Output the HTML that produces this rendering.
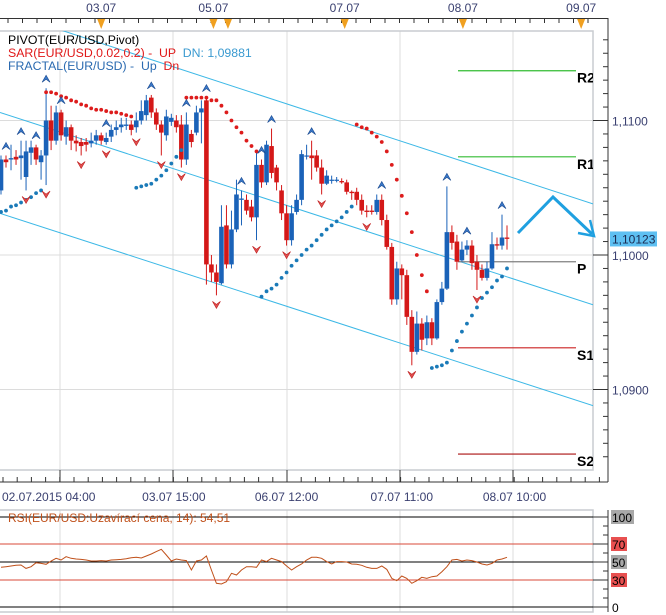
<!DOCTYPE html>
<html><head><meta charset="utf-8"><style>
html,body{margin:0;padding:0;background:#fff;}
svg{display:block;font-family:"Liberation Sans",sans-serif;}
text{white-space:pre;}
</style></head><body>
<svg id="c" width="666" height="615" viewBox="0 0 666 615">
<defs>
<clipPath id="pc"><rect x="0" y="31" width="593" height="439"/></clipPath>
<clipPath id="rc"><rect x="0" y="510" width="593" height="102"/></clipPath>
</defs>
</svg>
<script>
const opens=[1.1048,1.1071,1.1071,1.1073,1.1072,1.1058,1.1076,1.1080,1.1069,1.1074,
1.1100,1.1085,1.1106,1.1088,1.1095,1.1085,1.1084,1.1084,1.1083,1.1085,
1.1089,1.1084,1.1088,1.1093,1.1095,1.1096,1.1097,1.1095,1.1100,1.1104,
1.1117,1.1106,1.1097,1.1089,1.1099,1.1100,1.1097,1.1071,1.1090,1.1091,
1.1106,1.1115,1.0993,1.0987,1.0979,1.1022,1.0993,1.1019,1.1041,1.1041,
1.1036,1.1028,1.1067,1.1054,1.1081,1.1065,1.1048,1.1031,1.1011,1.1032,
1.1041,1.1074,1.1074,1.1074,1.1065,1.1053,1.1056,1.1056,1.1055,1.1054,
1.1047,1.1047,1.1041,1.1033,1.1033,1.1032,1.1041,1.1026,1.1006,1.0967,
1.0990,1.0985,1.0954,1.0928,1.0949,1.0938,1.0950,1.0938,1.0965,1.0975,
1.1017,1.1010,1.0996,1.1004,1.1007,1.0995,1.0989,1.0983,1.0990,1.1008,
1.1007,1.1013];
const closes=[1.1071,1.1069,1.1072,1.1071,1.1074,1.1077,1.1080,1.1071,1.1074,1.1100,
1.1085,1.1106,1.1089,1.1095,1.1085,1.1083,1.1081,1.1082,1.1085,1.1089,
1.1085,1.1087,1.1093,1.1095,1.1097,1.1097,1.1093,1.1100,1.1107,1.1115,
1.1106,1.1097,1.1091,1.1103,1.1102,1.1095,1.1071,1.1097,1.1084,1.1106,
1.1109,1.0993,1.0987,1.0980,1.1021,1.0993,1.1019,1.1045,1.1042,1.1033,
1.1028,1.1067,1.1054,1.1082,1.1061,1.1054,1.1031,1.1011,1.1031,1.1041,
1.1075,1.1074,1.1072,1.1065,1.1053,1.1059,1.1056,1.1056,1.1054,1.1047,
1.1046,1.1041,1.1033,1.1032,1.1032,1.1041,1.1026,1.1006,1.0967,1.0990,
1.0985,1.0954,1.0928,1.0949,1.0937,1.0950,1.0938,1.0965,1.0975,1.1017,
1.1009,1.0995,1.1004,1.1007,1.0994,1.0989,1.0983,1.0990,1.1008,1.1007,
1.1013,1.1012];
const highs=[1.1074,1.1074,1.1082,1.1078,1.1085,1.1085,1.1085,1.1082,1.1078,1.1124,
1.1111,1.1111,1.1108,1.1100,1.1097,1.1089,1.1087,1.1087,1.1091,1.1093,
1.1091,1.1091,1.1097,1.1100,1.1102,1.1102,1.1100,1.1106,1.1115,1.1119,
1.1119,1.1109,1.1100,1.1108,1.1105,1.1104,1.1104,1.1106,1.1093,1.1111,
1.1115,1.1117,1.1000,1.0993,1.1037,1.1037,1.1033,1.1056,1.1048,1.1045,
1.1041,1.1078,1.1071,1.1085,1.1094,1.1067,1.1052,1.1037,1.1037,1.1045,
1.1078,1.1082,1.1085,1.1078,1.1071,1.1063,1.1059,1.1058,1.1057,1.1056,
1.1048,1.1050,1.1045,1.1037,1.1037,1.1045,1.1045,1.1030,1.1009,1.0995,
1.0993,1.0989,1.0959,1.0958,1.0953,1.0955,1.0953,1.0967,1.0980,1.1051,
1.1022,1.1015,1.1010,1.1011,1.1011,1.1000,1.0993,1.0995,1.1017,1.1013,
1.1030,1.1022];
const lows=[1.1045,1.1065,1.1063,1.1067,1.1056,1.1048,1.1067,1.1067,1.1056,1.1052,
1.1078,1.1082,1.1085,1.1082,1.1078,1.1077,1.1074,1.1077,1.1080,1.1082,
1.1082,1.1082,1.1084,1.1089,1.1091,1.1093,1.1089,1.1091,1.1097,1.1100,
1.1102,1.1093,1.1074,1.1085,1.1096,1.1091,1.1065,1.1067,1.1080,1.1089,
1.1083,1.0978,1.0980,1.0970,1.0978,1.0990,1.0990,1.1017,1.1022,1.1030,
1.1025,1.1011,1.1050,1.1052,1.1057,1.1048,1.1026,1.1007,1.1007,1.1030,
1.1037,1.1071,1.1056,1.1062,1.1045,1.1052,1.1053,1.1054,1.1053,1.1045,
1.1041,1.1037,1.1030,1.1028,1.1030,1.1030,1.1022,1.1004,1.0963,1.0963,
1.0967,1.0948,1.0918,1.0926,1.0929,1.0933,1.0933,1.0937,1.0963,1.0974,
1.1004,1.0989,1.0995,1.1000,1.0989,1.0974,1.0981,1.0981,1.0989,1.1004,
1.1004,1.1004];
const sarValues=[1.1032,1.1033,1.1036,1.1037,1.1039,1.1041,1.1043,1.1046,1.1048,
1.1121,1.1121,1.1120,1.1118,1.1117,1.1115,1.1114,1.1112,1.1111,1.1109,1.1108,1.1108,1.1107,1.1106,1.1106,1.1105,1.1104,1.1103,
1.1050,1.1051,1.1052,1.1053,1.1056,1.1059,1.1063,1.1068,1.1073,1.1078,
1.1117,1.1117,1.1117,1.1117,1.1117,1.1115,1.1115,1.1111,1.1106,1.1100,1.1095,1.1091,1.1085,1.1081,1.1077,
1.0969,1.0973,1.0975,1.0978,1.0983,1.0987,1.0992,1.0996,1.1000,1.1004,1.1007,1.1011,1.1015,1.1019,1.1022,1.1025,1.1028,1.1032,1.1036,
1.1097,1.1095,1.1094,1.1091,1.1088,1.1084,1.1077,1.1067,1.1056,1.1044,1.1031,1.1017,1.1000,1.0985,1.0973,
1.0916,1.0917,1.0918,1.0920,1.0929,1.0936,1.0943,1.0949,1.0955,1.0961,1.0968,1.0972,1.0976,1.0981,1.0984,1.0990];
const sarUpFrom=[0,27,52,86];
const sarDnFrom=[9,37,71];
const fractalUpIdx=[1,4,7,9,12,21,30,37,41,48,52,54,62,76,89,93,100];
const fractalDnIdx=[5,9,16,21,27,32,36,43,51,57,64,73,82,95];
const pivotNames=["R2","R1","P","S1","S2"];
const pivotLevels=[1.1137,1.1073,1.0995,1.0931,1.0852];
const channelStart=[1.1182,1.1106,1.1031];
const channelEnd=[1.1038,1.0963,1.0888];
const priceTicks=[1.09,1.10,1.11];
const priceTickLabels=["1,0900","1,1000","1,1100"];
const lastPrice=1.10123;
const lastPriceLabel="1,10123";
const timeLabels=["02.07.2015 04:00","03.07 15:00","06.07 12:00","07.07 11:00","08.07 10:00"];
const timeLabelIdx=[12,34.5,57,80,102.5];
const dayLabels=["03.07","05.07","07.07","08.07","09.07"];
const dayMarkIdx=[20,42.4,45.3,68.6,92.2,115.8];
const dayLabelIdx=[20,42.4,68.6,92.2,115.8];
const rsiValues=[44.1,44.8,45.6,46.3,46.7,42.9,44.8,49.2,48.5,47.4,
51.1,54.1,52.2,55.9,54.1,53.3,52.9,52.2,51.1,51.1,
51.5,51.1,52.2,52.6,52.9,53.7,54.8,55.2,54.4,56.7,
58.9,61.5,64.1,57.8,51.1,53.3,52.2,51.5,41.1,51.1,
52.2,56.7,41.1,26.3,25.5,28.1,37.4,35.5,41.1,44.8,
44.8,44.1,52.2,50.4,54.1,52.2,50.4,45.6,41.1,44.8,
47.8,52.2,55.2,55.2,54.1,50.4,47.8,50.4,50.4,50.0,
47.8,47.4,46.3,44.1,42.9,42.9,45.6,41.8,31.8,29.2,
34.4,31.8,26.3,29.2,33.0,31.8,33.7,34.4,39.2,44.8,
52.2,52.9,51.1,52.2,51.5,50.0,47.8,46.7,48.5,52.2,
53.3,55.2];
const rsiLevels=[100,70,50,30,0];

const NS="http://www.w3.org/2000/svg";
const svg=document.getElementById('c');
function X(i){return 1+5.01*i;}
function Y(p){return 255-(p-1.1)*13450;}
function YR(v){return 607-v*0.9;}
function mk(tag,attrs,parent){const e=document.createElementNS(NS,tag);for(const k in attrs)e.setAttribute(k,attrs[k]);(parent||svg).appendChild(e);return e;}
function txt(s,attrs,parent){const e=mk('text',attrs,parent);e.textContent=s;return e;}

const grid=mk('g',{});


[60,173,287,400,513].forEach(x=>{mk('line',{x1:x,y1:31,x2:x,y2:470,stroke:'#dcdcdc','stroke-width':1},grid);mk('line',{x1:x,y1:510,x2:x,y2:612,stroke:'#dcdcdc','stroke-width':1},grid);});
priceTicks.forEach(p=>mk('line',{x1:0,y1:Y(p),x2:593,y2:Y(p),stroke:'#dcdcdc','stroke-width':1},grid));
const frame=mk('rect',{x:-1,y:31,width:594,height:439,fill:'none',stroke:'#c8ccd0','stroke-width':1.5});



const plot=mk('g',{'clip-path':'url(#pc)'});



channelStart.forEach((p,k)=>{
  const l=mk('line',{x1:0,y1:Y(p),x2:593,y2:Y(channelEnd[k]),stroke:'#3cb8e6','stroke-width':1},plot);
  
  
});
const pivColors=['#33bb33','#33bb33','#808080','#cc2222','#aa1111'];
pivotLevels.forEach((p,k)=>{
  const l=mk('line',{x1:458,y1:Y(p),x2:576,y2:Y(p),stroke:pivColors[k],'stroke-width':1.2},plot);
  
  
  const t=txt(pivotNames[k],{x:577,y:Y(p)+12,'font-size':14,'font-weight':'bold',fill:'#000'},plot);
  
  
});
closes.forEach((c,i)=>{
  const o=opens[i],up=c>=o,col=up?'#1a62b8':'#d41818',x=X(i);
  const g=mk('g',{},plot);
  
  
  mk('line',{x1:x,y1:Y(highs[i]),x2:x,y2:Y(lows[i]),stroke:col,'stroke-width':1},g);
  const top=Math.min(Y(o),Y(c)),h=Math.max(1.2,Math.abs(Y(o)-Y(c)));
  mk('rect',{x:x-2.3,y:top,width:4.6,height:h,fill:col},g);
});
sarValues.forEach((v,i)=>{
  let lu=-1,ld=-1;
  sarUpFrom.forEach(s=>{if(s<=i)lu=Math.max(lu,s);});
  sarDnFrom.forEach(s=>{if(s<=i)ld=Math.max(ld,s);});
  const side=ld>lu?'dn':'up';
  const d=mk('circle',{cx:X(i),cy:Y(v),r:1.9,fill:side==='up'?'#1a7ab8':'#dd1c1c'},plot);
  
  
});
fractalUpIdx.forEach(i=>{
  const x=X(i),y=Y(highs[i])-9;
  const f=mk('path',{d:`M${x-4},${y+3} L${x},${y-4} L${x+4},${y+3} L${x},${y} Z`,fill:'#3a78c8',stroke:'#1a4a90','stroke-width':0.6},plot);
  
  
});
fractalDnIdx.forEach(i=>{
  const x=X(i),y=Y(lows[i])+9;
  const f=mk('path',{d:`M${x-4},${y-3} L${x},${y+4} L${x+4},${y-3} L${x},${y} Z`,fill:'#e05050',stroke:'#c02020','stroke-width':0.6},plot);
  
  
});
const arr=mk('polyline',{points:'518,233 553,197 592,234',fill:'none',stroke:'#1fa0e0','stroke-width':3,'stroke-linejoin':'miter'});


const ah=mk('polyline',{points:'578,233 594,236 590,220',fill:'none',stroke:'#1fa0e0','stroke-width':2.5});



const lg=mk('g',{'font-size':12.3});


txt('PIVOT(EUR/USD,Pivot)',{x:8,y:44,fill:'#000'},lg);
const s2=txt('',{x:8,y:57},lg);
const a=mk('tspan',{fill:'#e01818'},s2);a.textContent='SAR(EUR/USD,0.02,0.2) -  UP  ';
const b=mk('tspan',{fill:'#3a9ad0'},s2);b.textContent='DN: 1,09881';
const s3=txt('',{x:8,y:70},lg);
const c1=mk('tspan',{fill:'#2a6ab0'},s3);c1.textContent='FRACTAL(EUR/USD) -  Up  ';
const c2=mk('tspan',{fill:'#e01818'},s3);c2.textContent='Dn';

const ta=mk('g',{});


mk('line',{x1:0,y1:18.5,x2:608,y2:18.5,stroke:'#333','stroke-width':1},ta);
for(let x=8;x<600;x+=14.5)mk('line',{x1:x,y1:18,x2:x,y2:23,stroke:'#333'},ta);
dayMarkIdx.forEach(i=>{const x=X(i);mk('path',{d:`M${x-4},19 L${x+4},19 L${x},29 Z`,fill:'#f0a020'},ta);});
dayLabels.forEach((s,k)=>txt(s,{x:X(dayLabelIdx[k]),y:12,'font-size':12,fill:'#3a4070','text-anchor':'middle'},ta));

const ra=mk('g',{});


mk('line',{x1:608,y1:18,x2:608,y2:482,stroke:'#333'},ra);
for(let p=1.084;p<=1.1165;p+=0.001){const y=Y(p);if(y>31&&y<470)mk('line',{x1:603,y1:y,x2:608,y2:y,stroke:'#333'},ra);}
priceTicks.forEach((p,k)=>{mk('line',{x1:593,y1:Y(p),x2:608,y2:Y(p),stroke:'#333'},ra);txt(priceTickLabels[k],{x:612,y:Y(p)+5,'font-size':12,fill:'#3a4070'},ra);});
const lp=mk('rect',{x:610,y:Y(lastPrice)-7,width:47,height:15,fill:'#5ec0f2'});


txt(lastPriceLabel,{x:612,y:Y(lastPrice)+5,'font-size':12,fill:'#1a2a50'});

const ba=mk('g',{});


mk('line',{x1:0,y1:482,x2:608,y2:482,stroke:'#333'},ba);
for(let x=3;x<600;x+=14.2)mk('line',{x1:x,y1:477,x2:x,y2:482,stroke:'#333'},ba);
[60,173,287,400,513].forEach(x=>mk('line',{x1:x,y1:470,x2:x,y2:482,stroke:'#333'},ba));
timeLabels.forEach((s,k)=>{let x=X(timeLabelIdx[k]);txt(s,{x:k===0?2:x,y:501,'font-size':12,fill:'#3a4070','text-anchor':k===0?'start':'middle'},ba);});

const rp=mk('g',{});


mk('rect',{x:-1,y:510,width:594,height:102,fill:'none',stroke:'#c8ccd0','stroke-width':1.5},rp);
rsiLevels.forEach(v=>{const red=(v===70||v===30);mk('line',{x1:0,y1:YR(v),x2:593,y2:YR(v),stroke:red?'#d84a3a':'#000','stroke-width':1},rp);});
mk('line',{x1:608,y1:510,x2:608,y2:612,stroke:'#333'},rp);
for(let v=0;v<=100;v+=10)mk('line',{x1:603,y1:YR(v),x2:608,y2:YR(v),stroke:'#333'},rp);
rsiLevels.forEach(v=>{
  const red=(v===70||v===30);
  mk('line',{x1:593,y1:YR(v),x2:608,y2:YR(v),stroke:'#333'},rp);
  const w=String(v).length*7+2;
  if(v!==0)mk('rect',{x:611,y:YR(v)-7,width:w,height:14,fill:red?'#e85050':'#a8a8a8'},rp);
  txt(String(v),{x:612,y:YR(v)+5,'font-size':12,fill:'#000'},rp);
});
const pts=rsiValues.map((v,i)=>X(i).toFixed(1)+','+YR(v).toFixed(1)).join(' ');
const rl=mk('polyline',{points:pts,fill:'none',stroke:'#c0501a','stroke-width':1,'clip-path':'url(#rc)'},rp);


const rt=txt('RSI(EUR/USD:Uzavírací cena, 14): 54,51',{x:8,y:522,'font-size':12,fill:'#c0501a'},rp);


</script>
</body></html>
